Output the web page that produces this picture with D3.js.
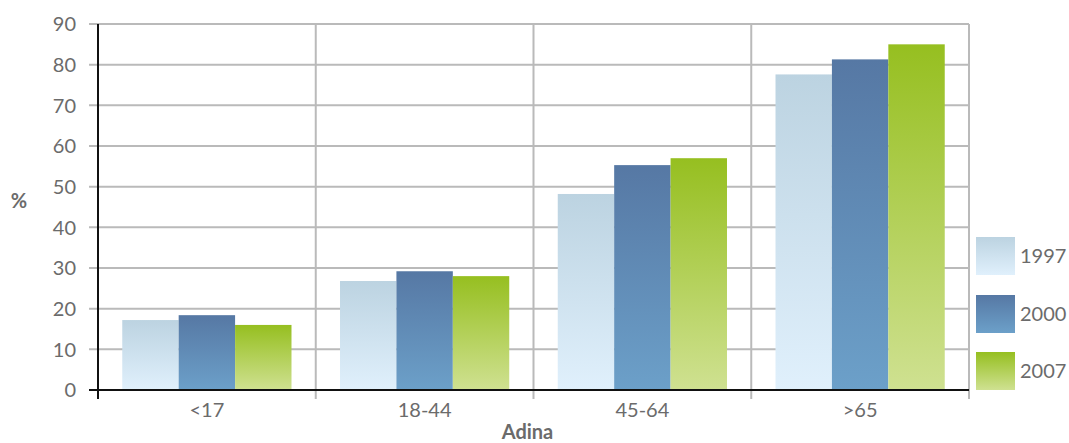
<!DOCTYPE html>
<html>
<head>
<meta charset="utf-8">
<script src="https://cdn.jsdelivr.net/npm/d3@7"></script>
<style>
  html, body { margin: 0; padding: 0; background: #fff; }
  svg text { font-family: Lato, "Open Sans", sans-serif; fill: #6b6b6b; }
</style>
</head>
<body>
<svg id="chart" width="1069" height="443"></svg>
<script>
// Age groups and share (%) per survey year
const categories = ["<17", "18-44", "45-64", ">65"];
const years = ["1997", "2000", "2007"];
const values1997 = [17.2, 26.8, 48.2, 77.6];
const values2000 = [18.4, 29.2, 55.3, 81.3];
const values2007 = [16.0, 28.0, 57.0, 85.0];
const yTicks = [0, 10, 20, 30, 40, 50, 60, 70, 80, 90];

const seriesValues = [values1997, values2000, values2007];
const gradients = [
  { top: "#bcd3e1", bottom: "#e0f0fc" },
  { top: "#5678a4", bottom: "#6ca0c9" },
  { top: "#96bf20", bottom: "#cfe191" }
];

const svg = d3.select("#chart");
const margin = { left: 98, right: 100, top: 24, bottom: 53 };
const width = 1069, height = 443;
const plotW = width - margin.left - margin.right;
const plotH = height - margin.top - margin.bottom;
const labelSize = 20;

const defs = svg.append("defs");
gradients.forEach((g, i) => {
  const lg = defs.append("linearGradient")
    .attr("id", "grad" + i)
    .attr("x1", 0).attr("y1", 0).attr("x2", 0).attr("y2", 1);
  lg.append("stop").attr("offset", "0%").attr("stop-color", g.top);
  lg.append("stop").attr("offset", "100%").attr("stop-color", g.bottom);
});

const x = d3.scaleBand().domain(categories).range([0, plotW]).paddingInner(0).paddingOuter(0);
const xInner = d3.scaleBand().domain(years).range([0, x.bandwidth()]).paddingOuter(0.43).paddingInner(0);
const y = d3.scaleLinear().domain([0, 90]).range([plotH, 0]);

const g = svg.append("g").attr("transform", `translate(${margin.left},${margin.top})`);

// horizontal gridlines with tick stubs to the left
g.append("g")
  .selectAll("line")
  .data(yTicks.filter(t => t > 0))
  .join("line")
  .attr("x1", -9).attr("x2", plotW)
  .attr("y1", d => y(d)).attr("y2", d => y(d))
  .attr("stroke", "#bababa").attr("stroke-width", 2);

// vertical gridlines at category boundaries
const boundaries = categories.map(c => x(c) + x.bandwidth());
g.append("g")
  .selectAll("line")
  .data(boundaries)
  .join("line")
  .attr("x1", d => d).attr("x2", d => d)
  .attr("y1", 0).attr("y2", plotH + 9)
  .attr("stroke", "#bababa").attr("stroke-width", 2);

// bars
const groups = g.append("g")
  .selectAll("g")
  .data(categories)
  .join("g")
  .attr("transform", d => `translate(${x(d)},0)`);

groups.selectAll("rect")
  .data((c, ci) => years.map((yr, si) => ({ yr, si, v: seriesValues[si][ci] })))
  .join("rect")
  .attr("x", d => xInner(d.yr))
  .attr("width", xInner.bandwidth())
  .attr("y", d => y(d.v))
  .attr("height", d => plotH - y(d.v))
  .attr("fill", d => `url(#grad${d.si})`);

// y axis labels
g.append("g")
  .selectAll("text")
  .data(yTicks)
  .join("text")
  .attr("x", -22)
  .attr("y", d => y(d))
  .attr("dy", "0.36em")
  .attr("text-anchor", "end")
  .attr("font-size", labelSize)
  .text(d => d);

// axis lines
g.append("line")
  .attr("x1", 0).attr("x2", 0).attr("y1", 0).attr("y2", plotH + 9)
  .attr("stroke", "#111").attr("stroke-width", 2);
g.append("line")
  .attr("x1", -9).attr("x2", plotW).attr("y1", plotH).attr("y2", plotH)
  .attr("stroke", "#111").attr("stroke-width", 2);

// x axis labels
g.append("g")
  .selectAll("text")
  .data(categories)
  .join("text")
  .attr("x", d => x(d) + x.bandwidth() / 2)
  .attr("y", plotH + 27)
  .attr("text-anchor", "middle")
  .attr("font-size", labelSize)
  .text(d => d);

// axis titles
svg.append("text")
  .attr("x", margin.left + plotW / 2 - 6)
  .attr("y", 439)
  .attr("text-anchor", "middle")
  .attr("font-size", 20)
  .attr("font-weight", "bold")
  .text("Adina");

svg.append("text")
  .attr("x", 19)
  .attr("y", 201)
  .attr("dy", "0.36em")
  .attr("text-anchor", "middle")
  .attr("font-size", 20)
  .attr("font-weight", "bold")
  .text("%");

// legend
const legendTops = [237, 295, 352];
const legend = svg.append("g")
  .selectAll("g")
  .data(years)
  .join("g")
  .attr("transform", (d, i) => `translate(976,${legendTops[i]})`);
legend.append("rect")
  .attr("width", 39).attr("height", 38)
  .attr("fill", (d, i) => `url(#grad${i})`);
legend.append("text")
  .attr("x", 44).attr("y", 19)
  .attr("dy", "0.36em")
  .attr("font-size", labelSize)
  .text(d => d);
</script>
</body>
</html>
